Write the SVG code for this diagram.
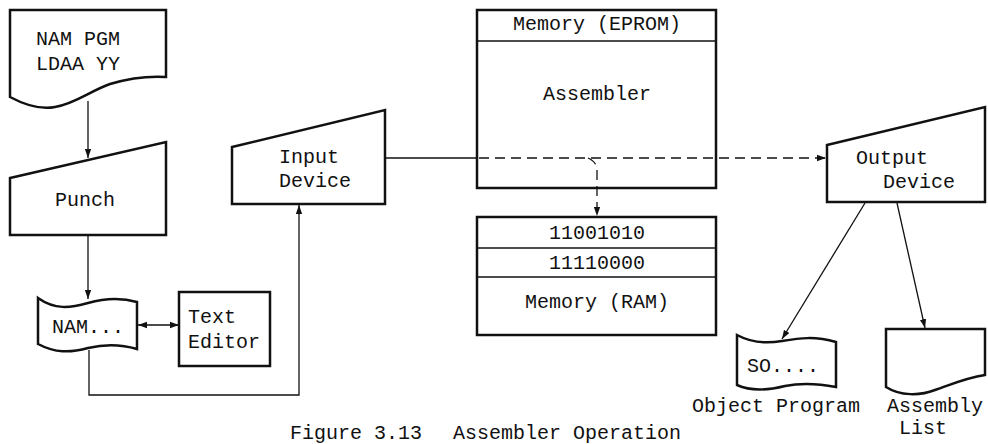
<svg xmlns="http://www.w3.org/2000/svg" width="988" height="444" viewBox="0 0 988 444">
<style>
.box{fill:#fff;stroke:#111;stroke-width:2.5;stroke-linejoin:miter}
.ln{fill:none;stroke:#111;stroke-width:1.3}
.dash{fill:none;stroke:#111;stroke-width:1.3;stroke-dasharray:10 6}
text{font-family:"Liberation Mono","Courier New",monospace;font-size:20px;fill:#111}
.c{text-anchor:middle}
</style>
<defs>
<marker id="ah" viewBox="0 0 10 10" refX="10" refY="5" markerWidth="9" markerHeight="9" markerUnits="userSpaceOnUse" orient="auto-start-reverse">
<path d="M0,1.5 L10,5 L0,8.5 Z" fill="#111"/>
</marker>
</defs>
<rect width="988" height="444" fill="#fff"/>

<g id="source-document">
<path class="box" d="M10,10 H166 V77 C150,76 130,78 110,84 C90,91 75,104 55,107 C40,110 25,105 10,97 Z"/>
<text x="36" y="45">NAM PGM</text>
<text x="36" y="70">LDAA YY</text>
</g>

<g id="punch">
<path class="box" d="M10,178 L166,142 L166,235 L10,235 Z"/>
<text x="55" y="206">Punch</text>
</g>

<g id="tape-nam">
<path class="box" d="M38,298 C55,310 70,308 88,303 C105,298 120,297 137,302 L137,349 C120,344 105,344 88,348 C70,353 55,353 38,344 Z"/>
<text x="52" y="333">NAM...</text>
</g>

<g id="text-editor">
<rect class="box" x="179" y="292" width="91" height="74"/>
<text x="188" y="323">Text</text>
<text x="188" y="348">Editor</text>
</g>

<g id="input-device">
<path class="box" d="M232,147 L385,110 L385,204 L232,204 Z"/>
<text x="279" y="163">Input</text>
<text x="279" y="187">Device</text>
</g>

<g id="memory-eprom">
<rect class="box" x="477" y="10" width="239" height="178"/>
<line class="ln" x1="477" y1="41" x2="716" y2="41"/>
<text class="c" x="597" y="30">Memory (EPROM)</text>
<text class="c" x="597" y="100">Assembler</text>
</g>

<g id="memory-ram">
<rect class="box" x="477" y="217" width="239" height="118"/>
<line class="ln" x1="477" y1="248" x2="716" y2="248"/>
<line class="ln" x1="477" y1="277" x2="716" y2="277"/>
<text class="c" x="597" y="239">11001010</text>
<text class="c" x="597" y="269">11110000</text>
<text class="c" x="597" y="308">Memory (RAM)</text>
</g>

<g id="output-device">
<path class="box" d="M827,145 L985,107 L985,202 L827,202 Z"/>
<text x="856" y="164">Output</text>
<text x="883" y="188">Device</text>
</g>

<g id="object-program">
<path class="box" d="M737,335 C750,342 765,344 782,341 C800,338 815,336 836,342 L836,387 C815,383 800,383 785,386 C765,391 750,391 737,385 Z"/>
<text x="747" y="372">SO....</text>
<text x="692" y="412">Object Program</text>
</g>

<g id="assembly-list">
<path class="box" d="M886,329 H985 V375 C965,378 950,385 935,390 C920,396 900,396 886,387 Z"/>
<text x="887" y="412">Assembly</text>
<text x="899" y="434">List</text>
</g>

<g id="connectors">
<line class="ln" x1="88" y1="101" x2="88" y2="158" marker-end="url(#ah)"/>
<line class="ln" x1="88" y1="236" x2="88" y2="299" marker-end="url(#ah)"/>
<line class="ln" x1="138" y1="325" x2="179" y2="325" marker-start="url(#ah)" marker-end="url(#ah)"/>
<polyline class="ln" points="89,350 89,395 299,395 299,205" marker-end="url(#ah)"/>
<line class="ln" x1="385" y1="158" x2="477" y2="158"/>
<line class="dash" x1="479" y1="158" x2="826" y2="158" marker-end="url(#ah)"/>
<path class="dash" d="M588,158 Q597,162 597,170 L597,216" marker-end="url(#ah)"/>
<line class="ln" x1="865" y1="203" x2="782" y2="339" marker-end="url(#ah)"/>
<line class="ln" x1="897" y1="203" x2="925" y2="328" marker-end="url(#ah)"/>
</g>

<g id="caption">
<text x="290" y="439">Figure 3.13</text>
<text x="453" y="439">Assembler Operation</text>
</g>
</svg>
